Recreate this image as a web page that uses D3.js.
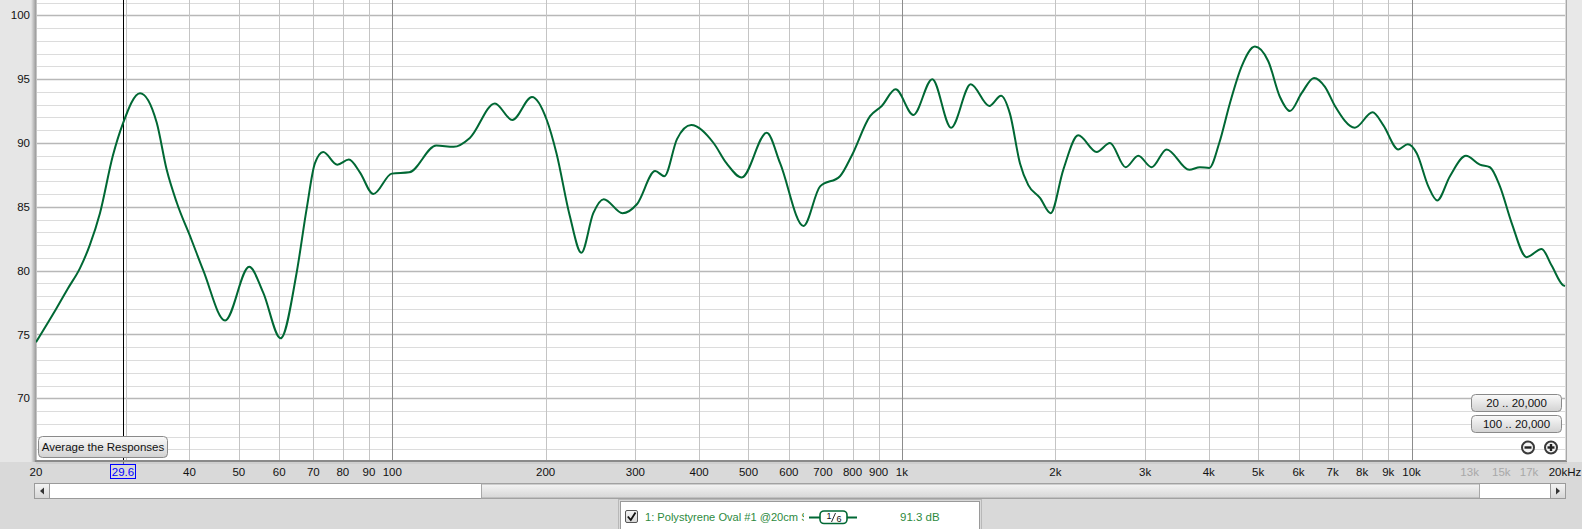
<!DOCTYPE html>
<html><head><meta charset="utf-8">
<script src="https://cdn.jsdelivr.net/npm/d3@7"></script>
<style>
html,body{margin:0;padding:0;background:#d9d9d9;overflow:hidden}
svg{display:block}
text{font-family:"Liberation Sans",Arial,sans-serif}
</style></head>
<body>
<script>
// ---- data ----
const freqs = [20,21.9,23.1,24.4,25.5,26.7,28.3,29.6,32.0,34.5,36.1,37.8,40.3,42.6,47.0,52.4,55.8,60.4,64.9,67.9,70.5,73.2,78.0,82.2,86.4,91.8,99.8,108,122,132,142,159,172,188,201,210,223,235,248,260,283,302,328,342,362,386,427,453,485,543,577,641,691,756,797,866,913,972,1053,1147,1249,1365,1484,1565,1629,1705,1770,1866,1958,2073,2218,2410,2560,2748,2909,3090,3307,3662,3844,4009,4194,4400,4641,4928,5234,5518,5772,6085,6436,6762,7074,7740,8386,8798,9419,9828,10235,10786,11226,11893,12785,13615,14248,14906,15714,16814,17998,18827,19840,20000];
const spl = [74.4,77.0,78.6,80.2,82.0,84.5,89.0,91.5,93.9,91.6,87.9,85.3,82.5,80.0,76.1,80.3,78.3,74.7,79.8,84.8,88.4,89.3,88.3,88.7,87.7,86.0,87.6,87.7,89.8,89.7,90.4,93.1,91.8,93.6,91.8,89.2,84.3,81.4,84.5,85.6,84.5,85.2,87.8,87.4,90.3,91.4,90.0,88.4,87.3,90.8,88.4,83.5,86.6,87.4,89.0,92.1,92.9,94.2,92.2,95.0,91.2,94.6,92.9,93.7,92.3,88.4,86.7,85.7,84.5,87.9,90.6,89.3,90.0,88.1,89.0,88.1,89.5,87.9,88.1,88.05,90.0,93.1,96.0,97.55,96.4,93.6,92.5,93.9,95.1,94.4,92.9,91.2,92.4,91.4,89.5,89.9,89.2,86.6,85.5,87.4,89.0,88.3,88.1,86.6,83.75,81.06,81.7,80.4,78.85,78.8];
const yTicks = [70,75,80,85,90,95,100];
const xTickVals = [20,40,50,60,70,80,90,100,200,300,400,500,600,700,800,900,1000,2000,3000,4000,5000,6000,7000,8000,9000,10000,13000,15000,17000,20000];
const xTickLabels = ["20","40","50","60","70","80","90","100","200","300","400","500","600","700","800","900","1k","2k","3k","4k","5k","6k","7k","8k","9k","10k","13k","15k","17k","20kHz"];
const cursorFreq = 29.6;
const legendName = "1: Polystyrene Oval #1 @20cm S";
const legendValue = "91.3 dB";
const rangeButtons = ["20 .. 20,000","100 .. 20,000"];

// ---- layout ----
const W = 1582, H = 529;
const L = 36, R = 1566, T = 0, B = 460;
const x = d3.scaleLog().domain([20,20000]).range([L,1565]);
const y = d3.scaleLinear().domain([65.17,101.2]).range([B,T]);

const svg = d3.select("body").append("svg").attr("width",W).attr("height",H);
const defs = svg.append("defs");
const g1 = defs.append("linearGradient").attr("id","btn").attr("x1",0).attr("y1",0).attr("x2",0).attr("y2",1);
g1.append("stop").attr("offset","0%").attr("stop-color","#fafafa");
g1.append("stop").attr("offset","100%").attr("stop-color","#d2d2d2");
const g2 = defs.append("linearGradient").attr("id","lborder").attr("x1",0).attr("y1",0).attr("x2",1).attr("y2",0);
g2.append("stop").attr("offset","0%").attr("stop-color","#e6e6e6");
g2.append("stop").attr("offset","100%").attr("stop-color","#9a9a9a");
const g3 = defs.append("linearGradient").attr("id","thumb").attr("x1",0).attr("y1",0).attr("x2",0).attr("y2",1);
g3.append("stop").attr("offset","0%").attr("stop-color","#f4f4f4");
g3.append("stop").attr("offset","100%").attr("stop-color","#d6d6d6");
defs.append("clipPath").attr("id","plotclip").append("rect").attr("x",L).attr("y",T).attr("width",R-L).attr("height",B-T);
defs.append("clipPath").attr("id","legclip").append("rect").attr("x",640).attr("y",500).attr("width",164).attr("height",29);

// backgrounds
svg.append("rect").attr("x",0).attr("y",0).attr("width",W).attr("height",H).attr("fill","#d9d9d9");
svg.append("rect").attr("x",0).attr("y",0).attr("width",L).attr("height",B+2).attr("fill","#e6e6e6");
svg.append("rect").attr("x",31).attr("y",0).attr("width",5).attr("height",B+2).attr("fill","url(#lborder)");
svg.append("rect").attr("x",R).attr("y",0).attr("width",W-R).attr("height",B+2).attr("fill","#e8e8e8");
svg.append("rect").attr("x",L).attr("y",T).attr("width",R-L).attr("height",B-T).attr("fill","#ffffff");

// grid
const grid = svg.append("g").attr("clip-path","url(#plotclip)");
const hlines = d3.range(66,102);
grid.selectAll("line.h").data(hlines).join("line")
  .attr("x1",L).attr("x2",R).attr("y1",d=>Math.round(y(d))+0.5).attr("y2",d=>Math.round(y(d))+0.5)
  .attr("stroke",d=>d%5===0?"#b8b8b8":"#dcdcdc").attr("stroke-width",d=>d%5===0?1.5:1);
const vlines = [];
[10,100,1000,10000].forEach(dec=>{for(let k=1;k<=9;k++){const f=dec*k; if(f>=20 && f<=20000) vlines.push(f);} });
vlines.push(20000);
function vcol(f){
  if(f===100||f===1000||f===10000) return "#8c8c8c";
  if(f>10000) return "#dadada";
  return "#c4c4c4";
}
grid.selectAll("line.v").data(vlines).join("line")
  .attr("x1",d=>Math.round(x(d))+0.5).attr("x2",d=>Math.round(x(d))+0.5).attr("y1",T).attr("y2",B)
  .attr("stroke",vcol).attr("stroke-width",1);

// cursor
const cx = Math.round(x(cursorFreq))+0.5;
svg.append("line").attr("x1",cx).attr("x2",cx).attr("y1",0).attr("y2",465).attr("stroke","#000").attr("stroke-width",1);

// curve
const pts = freqs.map((f,i)=>[f,spl[i]]);
const line = d3.line().x(d=>x(d[0])).y(d=>y(d[1])).curve(d3.curveMonotoneX);
svg.append("g").attr("clip-path","url(#plotclip)").append("path").attr("d",line(pts))
  .attr("fill","none").attr("stroke","#006834").attr("stroke-width",2).attr("stroke-linejoin","round");

// plot borders
svg.append("line").attr("x1",L-1).attr("x2",R+1).attr("y1",B+1).attr("y2",B+1).attr("stroke","#8a8a8a").attr("stroke-width",2);
svg.append("line").attr("x1",L).attr("x2",R+1).attr("y1",B+3).attr("y2",B+3).attr("stroke","#c4c4c4").attr("stroke-width",1);
svg.append("line").attr("x1",R+0.5).attr("x2",R+0.5).attr("y1",0).attr("y2",B+1).attr("stroke","#a8a8a8").attr("stroke-width",1);

// y labels
svg.selectAll("text.yl").data(yTicks).join("text")
  .attr("x",30).attr("y",d=>y(d)).attr("dy","0.35em").attr("text-anchor","end")
  .attr("font-size",11.5).attr("fill","#111").text(d=>d);

// x labels
svg.selectAll("text.xl").data(xTickVals).join("text")
  .attr("x",d=>x(d)).attr("y",476).attr("text-anchor","middle").attr("font-size",11.5)
  .attr("fill",(d,i)=>(d>10000&&d<20000)?"#a8a8a8":"#111")
  .text((d,i)=>xTickLabels[i]);

// cursor label
svg.append("rect").attr("x",110.5).attr("y",464.5).attr("width",25).attr("height",14).attr("fill","none").attr("stroke","#0000ff");
svg.append("text").attr("x",123).attr("y",476).attr("text-anchor","middle").attr("font-size",11.5).attr("fill","#0000ff").text(cursorFreq.toFixed(1));

// Average button
svg.append("rect").attr("x",38.5).attr("y",436.5).attr("width",129).attr("height",21).attr("rx",4)
  .attr("fill","url(#btn)").attr("stroke","#8a8a8a");
svg.append("text").attr("x",103).attr("y",451).attr("text-anchor","middle").attr("font-size",11.5).attr("fill","#111").text("Average the Responses");

// range buttons
rangeButtons.forEach((t,i)=>{
  const by = 394.5 + i*21;
  svg.append("rect").attr("x",1471.5).attr("y",by).attr("width",90).attr("height",17).attr("rx",4)
    .attr("fill","url(#btn)").attr("stroke","#8a8a8a");
  svg.append("text").attr("x",1516.5).attr("y",by+12.5).attr("text-anchor","middle").attr("font-size",11.5).attr("fill","#111").text(t);
});
// zoom icons
[[1528,false],[1551,true]].forEach(([ix,plus])=>{
  const iy = 447.5;
  svg.append("circle").attr("cx",ix).attr("cy",iy).attr("r",6).attr("fill","#f4f4f4").attr("stroke","#3a3a3a").attr("stroke-width",2);
  svg.append("rect").attr("x",ix-3.5).attr("y",iy-1.2).attr("width",7).attr("height",2.4).attr("fill","#222");
  if(plus) svg.append("rect").attr("x",ix-1.2).attr("y",iy-3.5).attr("width",2.4).attr("height",7).attr("fill","#222");
});

// scrollbar
svg.append("rect").attr("x",34.5).attr("y",483.5).attr("width",1531).attr("height",15).attr("fill","#ffffff").attr("stroke","#9a9a9a");
svg.append("rect").attr("x",481.5).attr("y",484).attr("width",998).attr("height",14).attr("fill","url(#thumb)").attr("stroke","#a8a8a8");
svg.append("rect").attr("x",34.5).attr("y",483.5).attr("width",15).attr("height",15).attr("fill","url(#thumb)").attr("stroke","#9a9a9a");
svg.append("rect").attr("x",1550.5).attr("y",483.5).attr("width",15).attr("height",15).attr("fill","url(#thumb)").attr("stroke","#9a9a9a");
svg.append("path").attr("d","M40,491 L44,487.5 L44,494.5 Z").attr("fill","#333");
svg.append("path").attr("d","M1560,491 L1556,487.5 L1556,494.5 Z").attr("fill","#333");

// legend box
svg.append("rect").attr("x",618.5).attr("y",499.5).attr("width",363).attr("height",32).attr("fill","none").attr("stroke","#b8b8b8");
svg.append("rect").attr("x",620.5).attr("y",501.5).attr("width",359).attr("height",30).attr("fill","#ffffff").attr("stroke","#9a9a9a");
svg.append("rect").attr("x",625.5).attr("y",510.5).attr("width",12).attr("height",12).attr("rx",1.5).attr("fill","url(#thumb)").attr("stroke","#555");
svg.append("path").attr("d","M627.8,516.5 L630.8,520 L635.5,512.5").attr("fill","none").attr("stroke","#111").attr("stroke-width",1.8);
svg.append("text").attr("x",645).attr("y",521).attr("font-size",11.1).attr("fill","#2d8a3e").attr("clip-path","url(#legclip)").text(legendName);
svg.append("line").attr("x1",809).attr("x2",857).attr("y1",517.5).attr("y2",517.5).attr("stroke","#006834").attr("stroke-width",2);
svg.append("rect").attr("x",820).attr("y",511).attr("width",27).attr("height",12.5).attr("rx",4).attr("fill","#ffffff").attr("stroke","#006834").attr("stroke-width",1.6);
svg.append("text").attr("x",829).attr("y",519).attr("text-anchor","middle").attr("font-size",9).attr("fill","#111").text("1");
svg.append("line").attr("x1",831.5).attr("x2",835.5).attr("y1",522).attr("y2",513).attr("stroke","#111").attr("stroke-width",0.9);
svg.append("text").attr("x",839).attr("y",522).attr("text-anchor","middle").attr("font-size",9).attr("fill","#111").text("6");
svg.append("text").attr("x",900).attr("y",521).attr("font-size",11.5).attr("fill","#2d8a3e").text(legendValue);
</script>
</body></html>
